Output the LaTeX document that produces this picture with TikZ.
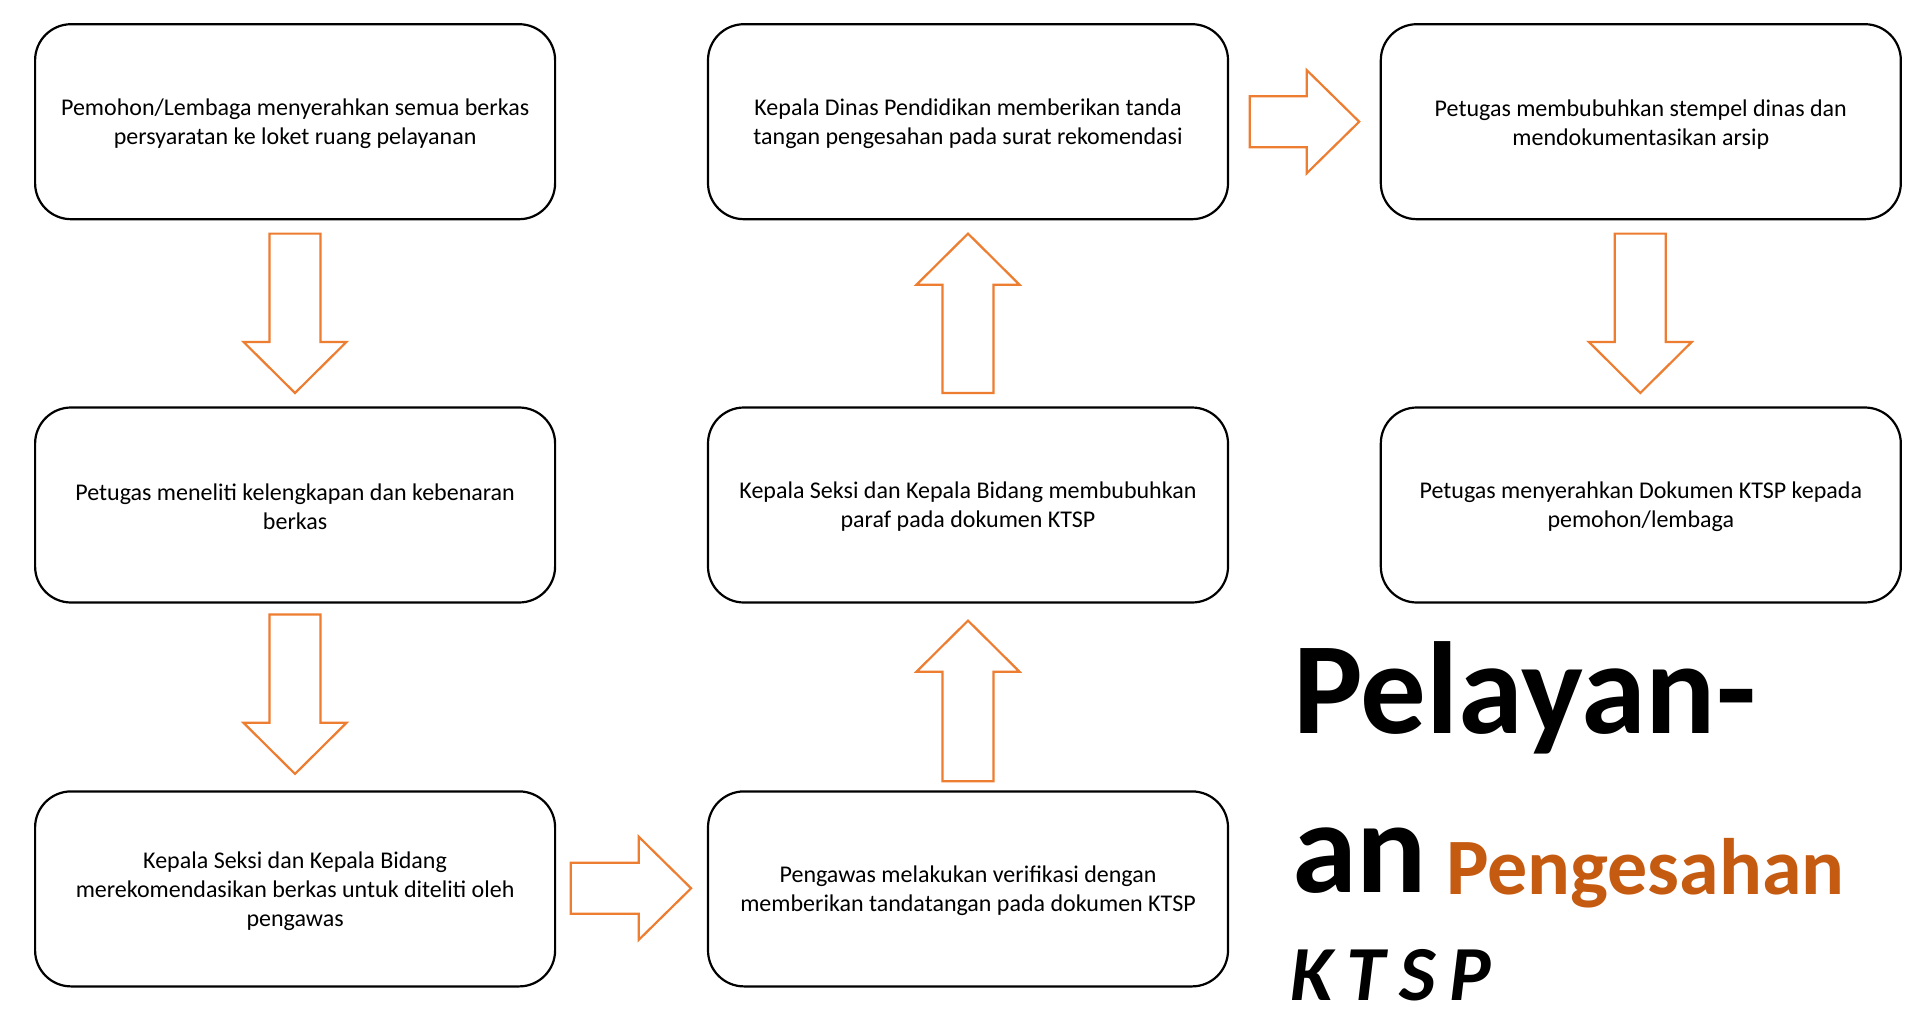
\documentclass[tikz,border=0pt]{standalone}
\usepackage{fontspec}
\setmainfont{Carlito}
\definecolor{arrowor}{HTML}{ED7D31}
\definecolor{titleor}{HTML}{C55A11}
\newcommand\DArr[4]{\draw[barrow] (#1-25.5,#2) -- (#1+25.5,#2) -- (#1+25.5,#3) -- (#1+51.5,#3) -- (#1,#4) -- (#1-51.5,#3) -- (#1-25.5,#3) -- cycle;}
\newcommand\UArr[4]{\draw[barrow] (#1-25.5,#2) -- (#1+25.5,#2) -- (#1+25.5,#3) -- (#1+51.5,#3) -- (#1,#4) -- (#1-51.5,#3) -- (#1-25.5,#3) -- cycle;}
\newcommand\RArr[4]{\draw[barrow] (#2,#1-25.5) -- (#2,#1+25.5) -- (#3,#1+25.5) -- (#3,#1+51.5) -- (#4,#1) -- (#3,#1-51.5) -- (#3,#1-25.5) -- cycle;}
\begin{document}
\begin{tikzpicture}[x=1pt,y=-1pt,
  box/.style={draw=black,line width=2.2pt,rounded corners=36pt,minimum width=520pt,minimum height=195pt,inner sep=0pt},
  txt/.style={align=center,inner sep=0pt,font=\fontsize{24pt}{29pt}\selectfont},
  barrow/.style={draw=arrowor,line width=2.2pt,fill=white,line join=miter},
  ttl/.style={anchor=base west,inner sep=0pt,outer sep=0pt}]
\useasboundingbox[fill=white] (0,0) rectangle (1908,1030);
% boxes
\node[box] (b1) at (295.1,121.7) {};
\node[box] (b2) at (295.1,505) {};
\node[box] (b3) at (295.1,888.9) {};
\node[box] (b4) at (968,888.9) {};
\node[box] (b5) at (968,505) {};
\node[box] (b6) at (968,121.7) {};
\node[box] (b7) at (1640.8,121.7) {};
\node[box] (b8) at (1640.8,505) {};
% texts
\node[txt] (x1) at ([yshift=-2.5pt]b1.center) {Pemohon/Lembaga menyerahkan semua berkas\\persyaratan ke loket ruang pelayanan};
\node[txt] (x2) at ([yshift=-2pt]b2.center) {Petugas meneliti kelengkapan dan kebenaran\\berkas};
\node[txt] (x3) at ([yshift=-2pt]b3.center) {Kepala Seksi dan Kepala Bidang\\merekomendasikan berkas untuk diteliti oleh\\pengawas};
\node[txt] (x4) at ([yshift=-2pt]b4.center) {Pengawas melakukan verifikasi dengan\\memberikan tandatangan pada dokumen KTSP};
\node[txt] (x5) at ([yshift=-2pt]b5.center) {Kepala Seksi dan Kepala Bidang membubuhkan\\paraf pada dokumen KTSP};
\node[txt] (x6) at ([yshift=-2.5pt]b6.center) {Kepala Dinas Pendidikan memberikan tanda\\tangan pengesahan pada surat rekomendasi};
\node[txt] (x7) at ([yshift=-2.5pt]b7.center) {Petugas membubuhkan stempel dinas dan\\mendokumentasikan arsip};
\node[txt] (x8) at ([yshift=-2pt]b8.center) {Petugas menyerahkan Dokumen KTSP kepada\\pemohon/lembaga};
% block arrows
\DArr{295}{233.6}{341.9}{393}
\DArr{295}{614.5}{722.8}{773.9}
\RArr{888.3}{570.7}{638.8}{691.1}
\UArr{968}{781.2}{671.7}{620.6}
\UArr{968}{393}{284.7}{233.6}
\RArr{121.7}{1249.7}{1306.8}{1359.2}
\DArr{1640.3}{233.6}{341.9}{393}
% title
\node[ttl,font=\fontsize{131pt}{131pt}\selectfont\bfseries] (t1) at (1293,733) {Pelayan-};
\node[ttl,font=\fontsize{131pt}{131pt}\selectfont\bfseries] (t2) at (1292,892) {an};
\node[ttl,font=\fontsize{80pt}{80pt}\selectfont\bfseries,text=titleor] (t3) at (1446,894) {Pengesahan};
\node[ttl,font=\fontsize{78pt}{78pt}\selectfont\bfseries\itshape] (t4) at (1290,1000) {K\hspace{14pt}T\hspace{14pt}S\hspace{14pt}P};
\end{tikzpicture}
\end{document}
